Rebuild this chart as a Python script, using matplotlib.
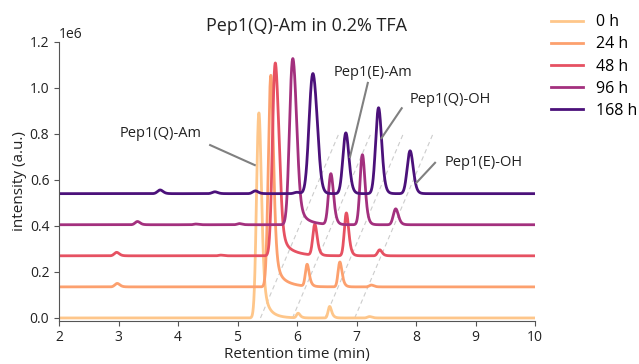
import numpy as np
import matplotlib
matplotlib.use("Agg")
import matplotlib.pyplot as plt

plt.rcParams['font.family'] = ['Open Sans', 'DejaVu Sans']

# ---- data ----
labels = ["0 h", "24 h", "48 h", "96 h", "168 h"]
colors = ["#fec68a", "#fca06e", "#e65162", "#a3307e", "#4b117a"]
baselines = [0.0, 0.135, 0.27, 0.405, 0.54]  # in 1e6

# peaks per trace: (apex position [min], height above baseline [1e6], sigma, tail)
peaks_0h = [(5.36, 0.87, 0.035, 0.03), (5.46, 0.05, 0.06, 0.12),
            (6.02, 0.02, 0.022, 0.03), (6.55, 0.05, 0.022, 0.03), (7.22, 0.006, 0.03, 0.03)]
peaks_24h = [(2.98, 0.015, 0.035, 0.03), (5.56, 0.90, 0.037, 0.03), (5.67, 0.05, 0.06, 0.17),
             (6.17, 0.095, 0.025, 0.03), (6.72, 0.108, 0.026, 0.03), (7.25, 0.008, 0.03, 0.03)]
peaks_48h = [(2.97, 0.015, 0.035, 0.03), (4.72, 0.003, 0.03, 0.03), (5.63, 0.80, 0.04, 0.03),
             (5.70, 0.18, 0.03, 0.03), (5.76, 0.05, 0.06, 0.18), (6.30, 0.134, 0.03, 0.03),
             (6.83, 0.186, 0.03, 0.03), (7.39, 0.026, 0.03, 0.03)]
peaks_96h = [(3.32, 0.014, 0.035, 0.03), (4.30, 0.003, 0.03, 0.03), (5.03, 0.005, 0.03, 0.03),
             (5.92, 0.67, 0.045, 0.03), (5.99, 0.16, 0.035, 0.03), (6.05, 0.04, 0.06, 0.15),
             (6.57, 0.22, 0.036, 0.03), (7.10, 0.304, 0.036, 0.03), (7.66, 0.069, 0.036, 0.03)]
peaks_168h = [(3.70, 0.016, 0.04, 0.03), (4.62, 0.008, 0.04, 0.03), (5.30, 0.012, 0.04, 0.03),
              (6.00, 0.006, 0.04, 0.03), (6.26, 0.50, 0.055, 0.03), (6.34, 0.10, 0.04, 0.03),
              (6.82, 0.264, 0.045, 0.03), (7.37, 0.373, 0.045, 0.03), (7.90, 0.186, 0.045, 0.03)]
all_peaks = [peaks_0h, peaks_24h, peaks_48h, peaks_96h, peaks_168h]

guide_starts = [5.386, 5.924, 6.47, 6.97]   # dashed guide lines (x at y=0)
guide_dx, guide_top = 1.316, 0.80

annotations = [
    ("Pep1(Q)-Am", (5.29, 0.664), (4.54, 0.751), (3.70, 0.80)),
    ("Pep1(E)-Am", (6.89, 0.699), (7.19, 1.021), (7.28, 1.068)),
    ("Pep1(Q)-OH", (7.42, 0.781), (7.76, 0.911), (8.57, 0.951)),
    ("Pep1(E)-OH", (8.01, 0.588), (8.32, 0.674), (9.13, 0.677)),
]

# ---- peak shape (exponentially tailed gaussian) ----
dx = 0.002
t = np.arange(-1.0, 3.0, dx)

def peak(x, mu, h, sigma, tau):
    g = np.exp(-0.5 * (t / sigma) ** 2)
    k = np.exp(-np.arange(0, 10 * tau, dx) / tau)
    p = np.convolve(g, k)[:len(t)]
    p /= p.max()
    t_apex = t[np.argmax(p)]
    return h * np.interp(x - mu + t_apex, t, p, left=0, right=0)

x = np.linspace(2, 10, 4001)

fig = plt.figure(figsize=(6.39, 3.64), dpi=100)
ax = fig.add_axes([59 / 639, 1 - 320.5 / 364, (535 - 59) / 639, (320.5 - 41.7) / 364])

for x0 in guide_starts:
    ax.plot([x0, x0 + guide_dx], [0, guide_top * 1e6], ls=(0, (4, 3)), color="#cccccc", lw=0.8, zorder=1)

for lab, col, base, pk in zip(labels, colors, baselines, all_peaks):
    y = np.full_like(x, base)
    for (mu, h, s, tau) in pk:
        y = y + peak(x, mu, h, s, tau)
    ax.plot(x, y * 1e6, color=col, lw=2, label=lab, zorder=2)

for text, xy, start, tpos in annotations:
    ax.plot([start[0], xy[0]], [start[1] * 1e6, xy[1] * 1e6], color="#808080", lw=1.5, zorder=3)
    ax.text(tpos[0], tpos[1] * 1e6, text, ha="center", va="center", fontsize=10.5, color="#222222")

ax.set_xlim(2, 10)
ax.set_ylim(-0.011e6, 1.2e6)
ax.set_xticks(range(2, 11))
ax.set_yticks(np.arange(0, 1.21e6, 0.2e6))
ax.spines["top"].set_visible(False)
ax.spines["right"].set_visible(False)
for sp in ("left", "bottom"):
    ax.spines[sp].set_color("#555555")
ax.tick_params(colors="#555555", labelcolor="#222222", labelsize=10)
ax.set_xlabel("Retention time (min)", fontsize=11, color="#222222", labelpad=1.5)
ax.set_ylabel("intensity (a.u.)", fontsize=11, color="#222222", labelpad=2)
ax.set_title("Pep1(Q)-Am in 0.2% TFA", fontsize=13, color="#222222", pad=8, x=(306 - 59) / 476)
ax.yaxis.get_offset_text().set_fontsize(10)

fig.legend(loc="upper left", bbox_to_anchor=(537 / 639, 1 - 0 / 364), frameon=False,
           fontsize=11.5, handlelength=2.0, handletextpad=0.8, labelspacing=0.38)

fig.savefig("out.png", dpi=100)
